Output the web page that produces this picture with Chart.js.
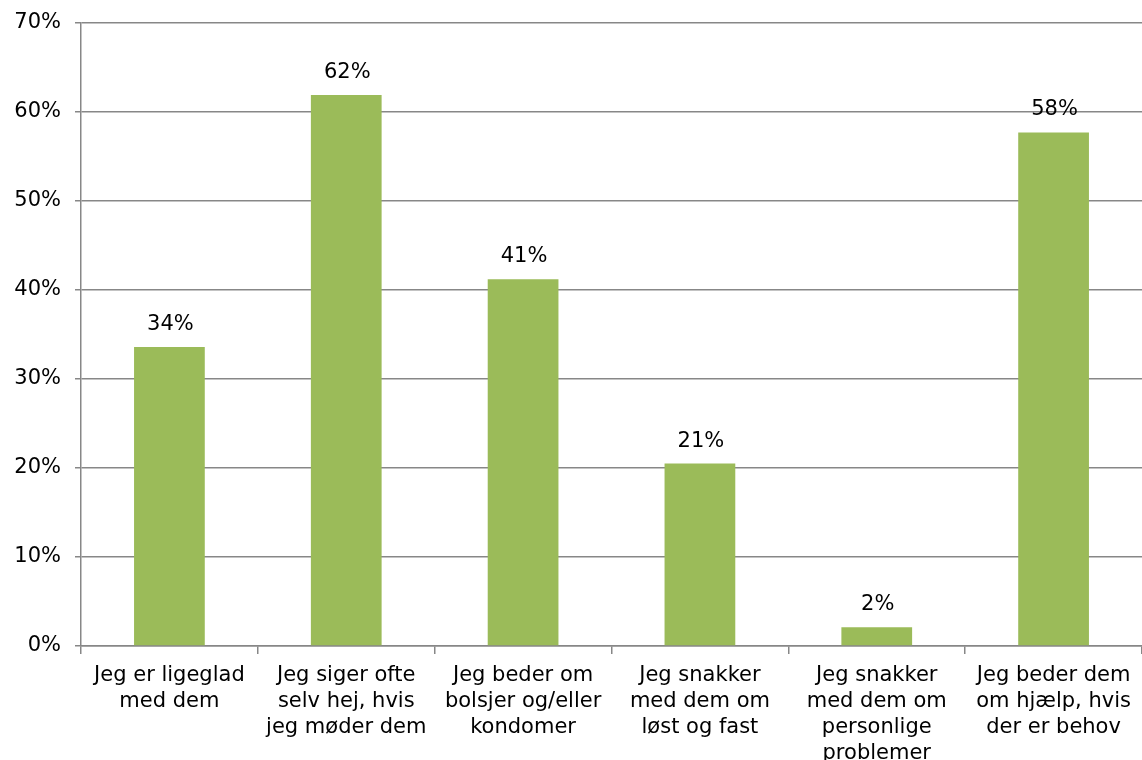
<!DOCTYPE html>
<html>
<head>
<meta charset="utf-8">
<script src="https://cdn.jsdelivr.net/npm/chart.js@4/dist/chart.umd.min.js"></script>
<style>
    html, body { margin: 0; padding: 0; background: #fff; }
    #wrap { width: 1142px; height: 760px; }
</style>
</head>
<body>
<div id="wrap"><canvas id="chart" width="1142" height="760"></canvas></div>
<script>
// Data
const categories = [
    ["Jeg er ligeglad", "med dem"],
    ["Jeg siger ofte", "selv hej, hvis", "jeg møder dem"],
    ["Jeg beder om", "bolsjer og/eller", "kondomer"],
    ["Jeg snakker", "med dem om", "løst og fast"],
    ["Jeg snakker", "med dem om", "personlige", "problemer"],
    ["Jeg beder dem", "om hjælp, hvis", "der er behov"]
];
const values = [33.6, 61.9, 41.2, 20.5, 2.1, 57.7];
const yTicks = [0, 10, 20, 30, 40, 50, 60, 70];

const FONT = "'DejaVu Sans', Verdana, sans-serif";
const GRID = "#878787";

// Value labels above bars
const valueLabels = {
    id: "valueLabels",
    afterDatasetsDraw(chart) {
        const ctx = chart.ctx;
        const meta = chart.getDatasetMeta(0);
        ctx.save();
        ctx.font = "21px " + FONT;
        ctx.fillStyle = "#000";
        ctx.textAlign = "center";
        ctx.textBaseline = "bottom";
        meta.data.forEach((bar, i) => {
            ctx.fillText(Math.round(values[i]) + "%", bar.x + 1, bar.y - 12);
        });
        ctx.restore();
    }
};

const ctx = document.getElementById("chart").getContext("2d");
const myChart = new Chart(ctx, {
    type: "bar",
    data: {
        labels: categories,
        datasets: [{
            data: values,
            backgroundColor: "#9BBB59",
            categoryPercentage: 1,
            barPercentage: 0.4
        }]
    },
    options: {
        responsive: false,
        animation: false,
        layout: { padding: { top: 23, right: 0, left: 0, bottom: 0 } },
        plugins: {
            legend: { display: false },
            tooltip: { enabled: false }
        },
        scales: {
            x: {
                offset: true,
                grid: {
                    offset: true,
                    drawOnChartArea: false,
                    drawTicks: true,
                    tickLength: 8,
                    color: GRID,
                    lineWidth: 1.5
                },
                border: { color: GRID, width: 1.5 },
                ticks: {
                    color: "#000",
                    font: { family: FONT, size: 21, lineHeight: 1.25 },
                    padding: 8,
                    maxRotation: 0,
                    autoSkip: false
                },
                afterFit(scale) { scale.height = 114; }
            },
            y: {
                min: 0,
                max: 70,
                afterBuildTicks(scale) {
                    scale.ticks = yTicks.map(v => ({ value: v }));
                },
                grid: {
                    color: GRID,
                    lineWidth: 1.5,
                    tickLength: 6
                },
                border: { color: GRID, width: 1.5 },
                ticks: {
                    color: "#000",
                    font: { family: FONT, size: 21 },
                    padding: 14,
                    callback: v => v + "%"
                },
                afterFit(scale) {
                    scale.width = 81;
                    scale.paddingTop = 0;
                    scale.paddingBottom = 0;
                }
            }
        }
    },
    plugins: [valueLabels]
});
</script>
</body>
</html>
